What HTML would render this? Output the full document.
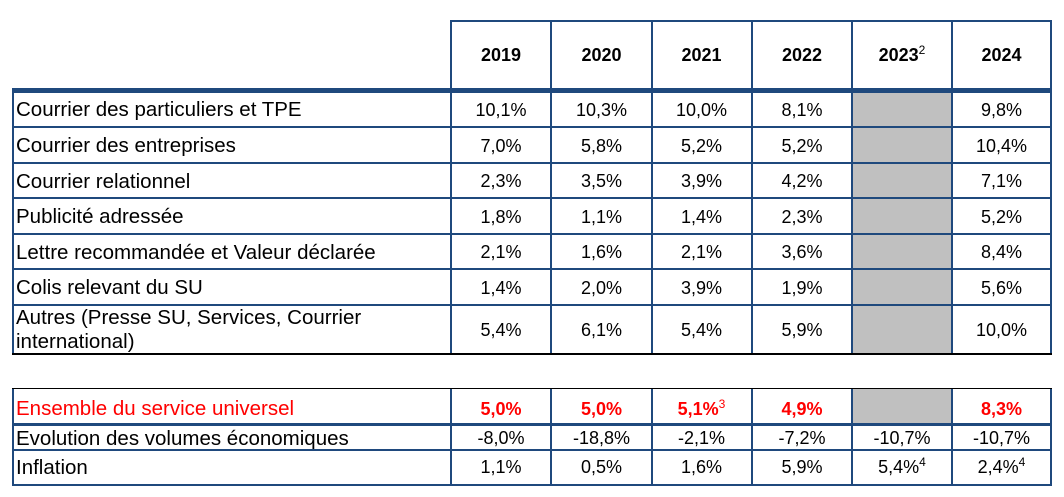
<!DOCTYPE html>
<html>
<head>
<meta charset="utf-8">
<style>
  html, body { margin:0; padding:0; background:#fff; }
  body { width:1064px; height:497px; position:relative; overflow:hidden;
         font-family:"Liberation Sans", Arial, sans-serif; color:#000; }
  .b { position:absolute; background:#1f497d; }
  .k { position:absolute; background:#000; }
  .g { position:absolute; background:#c0c0c0; }
  .l { position:absolute; left:16px; font-size:20.5px; white-space:nowrap; }
  .n { position:absolute; font-size:18px; text-align:center; white-space:nowrap; }
  .hd { font-weight:bold; }
  .red { color:#ff0000; }
  .rb { color:#ff0000; font-weight:bold; }
  sup { font-size:12px; line-height:0; vertical-align:7px; font-weight:normal; }
  .c1 { left:452px; width:98px; }
  .c2 { left:552px; width:99px; }
  .c3 { left:652px; width:99px; }
  .c4 { left:753px; width:98px; }
  .c5 { left:853px; width:98px; }
  .c6 { left:953px; width:97px; }
</style>
</head>
<body>

<!-- gray cells -->
<div class="g" style="left:853px;top:92px;width:98px;height:261px;"></div>
<div class="g" style="left:853px;top:389px;width:98px;height:34px;"></div>

<!-- top table horizontal lines -->
<div class="b" style="left:450px;top:20px;width:602px;height:2px;"></div>
<div class="b" style="left:12px;top:88px;width:1040px;height:4.5px;"></div>
<div class="b" style="left:12px;top:126px;width:1040px;height:2px;"></div>
<div class="b" style="left:12px;top:162px;width:1040px;height:2px;"></div>
<div class="b" style="left:12px;top:197px;width:1040px;height:2px;"></div>
<div class="b" style="left:12px;top:233px;width:1040px;height:2px;"></div>
<div class="b" style="left:12px;top:268px;width:1040px;height:2px;"></div>
<div class="b" style="left:12px;top:304px;width:1040px;height:2px;"></div>

<!-- top table vertical lines -->
<div class="b" style="left:12px;top:88px;width:2px;height:266px;"></div>
<div class="b" style="left:450px;top:20px;width:2px;height:334px;"></div>
<div class="b" style="left:550px;top:20px;width:2px;height:334px;"></div>
<div class="b" style="left:650.5px;top:20px;width:2px;height:334px;"></div>
<div class="b" style="left:751px;top:20px;width:2px;height:334px;"></div>
<div class="b" style="left:851px;top:20px;width:2px;height:334px;"></div>
<div class="b" style="left:951px;top:20px;width:2px;height:334px;"></div>
<div class="b" style="left:1050px;top:20px;width:2px;height:334px;"></div>
<div class="k" style="left:12px;top:353px;width:1040px;height:1.5px;"></div>

<!-- bottom table lines -->
<div class="b" style="left:12px;top:423px;width:1040px;height:3px;"></div>
<div class="b" style="left:12px;top:448.5px;width:1040px;height:2.5px;"></div>
<div class="b" style="left:12px;top:483.5px;width:1040px;height:2.5px;"></div>
<div class="b" style="left:12px;top:388px;width:2px;height:98px;"></div>
<div class="b" style="left:450px;top:388px;width:2px;height:98px;"></div>
<div class="b" style="left:550px;top:388px;width:2px;height:98px;"></div>
<div class="b" style="left:650.5px;top:388px;width:2px;height:98px;"></div>
<div class="b" style="left:751px;top:388px;width:2px;height:98px;"></div>
<div class="b" style="left:851px;top:388px;width:2px;height:98px;"></div>
<div class="b" style="left:951px;top:388px;width:2px;height:98px;"></div>
<div class="b" style="left:1050px;top:388px;width:2px;height:98px;"></div>
<div class="k" style="left:12px;top:387.5px;width:1040px;height:1.5px;"></div>

<!-- header -->
<div class="n hd c1" style="top:22px;height:66px;line-height:66px;">2019</div>
<div class="n hd c2" style="top:22px;height:66px;line-height:66px;">2020</div>
<div class="n hd c3" style="top:22px;height:66px;line-height:66px;">2021</div>
<div class="n hd c4" style="top:22px;height:66px;line-height:66px;">2022</div>
<div class="n hd c5" style="top:22px;height:66px;line-height:66px;">2023<sup>2</sup></div>
<div class="n hd c6" style="top:22px;height:66px;line-height:66px;">2024</div>

<!-- row 1 -->
<div class="l" style="top:93px;height:34px;line-height:34px;">Courrier des particuliers et TPE</div>
<div class="n c1" style="top:93px;height:34px;line-height:34px;">10,1%</div>
<div class="n c2" style="top:93px;height:34px;line-height:34px;">10,3%</div>
<div class="n c3" style="top:93px;height:34px;line-height:34px;">10,0%</div>
<div class="n c4" style="top:93px;height:34px;line-height:34px;">8,1%</div>
<div class="n c6" style="top:93px;height:34px;line-height:34px;">9,8%</div>

<!-- row 2 -->
<div class="l" style="top:129px;height:34px;line-height:34px;">Courrier des entreprises</div>
<div class="n c1" style="top:129px;height:34px;line-height:34px;">7,0%</div>
<div class="n c2" style="top:129px;height:34px;line-height:34px;">5,8%</div>
<div class="n c3" style="top:129px;height:34px;line-height:34px;">5,2%</div>
<div class="n c4" style="top:129px;height:34px;line-height:34px;">5,2%</div>
<div class="n c6" style="top:129px;height:34px;line-height:34px;">10,4%</div>

<!-- row 3 -->
<div class="l" style="top:165px;height:33px;line-height:33px;">Courrier relationnel</div>
<div class="n c1" style="top:165px;height:33px;line-height:33px;">2,3%</div>
<div class="n c2" style="top:165px;height:33px;line-height:33px;">3,5%</div>
<div class="n c3" style="top:165px;height:33px;line-height:33px;">3,9%</div>
<div class="n c4" style="top:165px;height:33px;line-height:33px;">4,2%</div>
<div class="n c6" style="top:165px;height:33px;line-height:33px;">7,1%</div>

<!-- row 4 -->
<div class="l" style="top:200px;height:34px;line-height:34px;">Publicité adressée</div>
<div class="n c1" style="top:200px;height:34px;line-height:34px;">1,8%</div>
<div class="n c2" style="top:200px;height:34px;line-height:34px;">1,1%</div>
<div class="n c3" style="top:200px;height:34px;line-height:34px;">1,4%</div>
<div class="n c4" style="top:200px;height:34px;line-height:34px;">2,3%</div>
<div class="n c6" style="top:200px;height:34px;line-height:34px;">5,2%</div>

<!-- row 5 -->
<div class="l" style="top:236px;height:33px;line-height:33px;">Lettre recommandée et Valeur déclarée</div>
<div class="n c1" style="top:236px;height:33px;line-height:33px;">2,1%</div>
<div class="n c2" style="top:236px;height:33px;line-height:33px;">1,6%</div>
<div class="n c3" style="top:236px;height:33px;line-height:33px;">2,1%</div>
<div class="n c4" style="top:236px;height:33px;line-height:33px;">3,6%</div>
<div class="n c6" style="top:236px;height:33px;line-height:33px;">8,4%</div>

<!-- row 6 -->
<div class="l" style="top:271px;height:34px;line-height:34px;">Colis relevant du SU</div>
<div class="n c1" style="top:271px;height:34px;line-height:34px;">1,4%</div>
<div class="n c2" style="top:271px;height:34px;line-height:34px;">2,0%</div>
<div class="n c3" style="top:271px;height:34px;line-height:34px;">3,9%</div>
<div class="n c4" style="top:271px;height:34px;line-height:34px;">1,9%</div>
<div class="n c6" style="top:271px;height:34px;line-height:34px;">5,6%</div>

<!-- row 7 -->
<div class="l" style="top:306px;line-height:24px;">Autres (Presse SU, Services, Courrier<br>international)</div>
<div class="n c1" style="top:307px;height:47px;line-height:47px;">5,4%</div>
<div class="n c2" style="top:307px;height:47px;line-height:47px;">6,1%</div>
<div class="n c3" style="top:307px;height:47px;line-height:47px;">5,4%</div>
<div class="n c4" style="top:307px;height:47px;line-height:47px;">5,9%</div>
<div class="n c6" style="top:307px;height:47px;line-height:47px;">10,0%</div>

<!-- row 8 -->
<div class="l red" style="top:392px;height:34px;line-height:34px;">Ensemble du service universel</div>
<div class="n rb c1" style="top:392px;height:34px;line-height:34px;">5,0%</div>
<div class="n rb c2" style="top:392px;height:34px;line-height:34px;">5,0%</div>
<div class="n rb c3" style="top:392px;height:34px;line-height:34px;">5,1%<sup>3</sup></div>
<div class="n rb c4" style="top:392px;height:34px;line-height:34px;">4,9%</div>
<div class="n rb c6" style="top:392px;height:34px;line-height:34px;">8,3%</div>

<!-- row 9 -->
<div class="l" style="top:427px;height:23px;line-height:23px;">Evolution des volumes économiques</div>
<div class="n c1" style="top:427px;height:23px;line-height:23px;">-8,0%</div>
<div class="n c2" style="top:427px;height:23px;line-height:23px;">-18,8%</div>
<div class="n c3" style="top:427px;height:23px;line-height:23px;">-2,1%</div>
<div class="n c4" style="top:427px;height:23px;line-height:23px;">-7,2%</div>
<div class="n c5" style="top:427px;height:23px;line-height:23px;">-10,7%</div>
<div class="n c6" style="top:427px;height:23px;line-height:23px;">-10,7%</div>

<!-- row 10 -->
<div class="l" style="top:452px;height:32px;line-height:32px;">Inflation</div>
<div class="n c1" style="top:451px;height:32px;line-height:32px;">1,1%</div>
<div class="n c2" style="top:451px;height:32px;line-height:32px;">0,5%</div>
<div class="n c3" style="top:451px;height:32px;line-height:32px;">1,6%</div>
<div class="n c4" style="top:451px;height:32px;line-height:32px;">5,9%</div>
<div class="n c5" style="top:451px;height:32px;line-height:32px;">5,4%<sup>4</sup></div>
<div class="n c6" style="top:451px;height:32px;line-height:32px;">2,4%<sup>4</sup></div>

</body>
</html>
